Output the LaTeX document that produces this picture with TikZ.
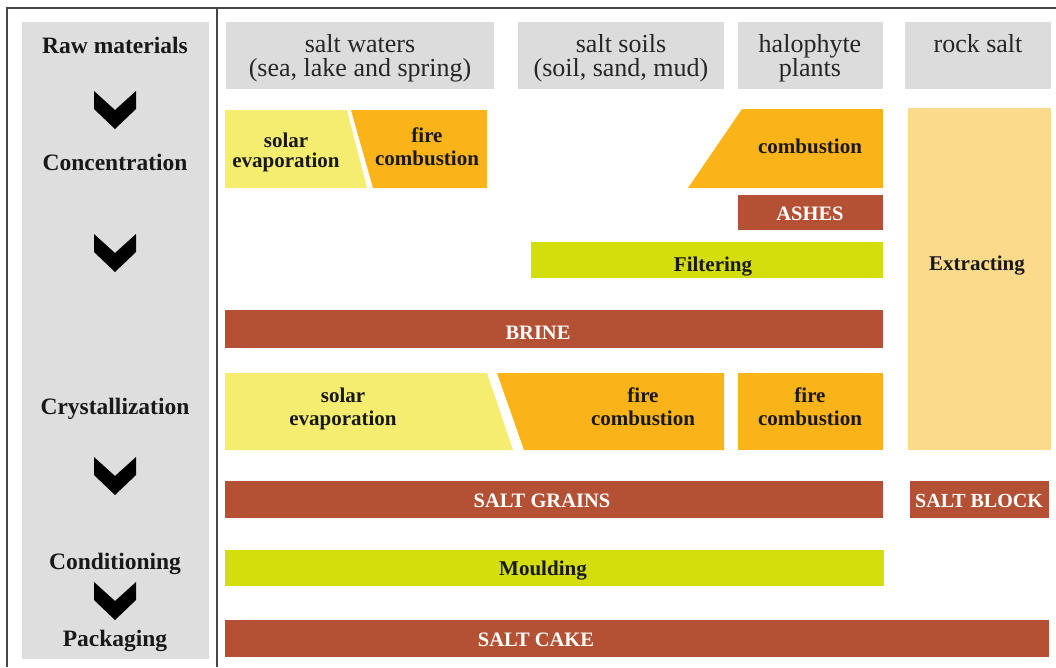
\documentclass[tikz,border=0pt]{standalone}
\usepackage{fontspec}
\setmainfont{Liberation Serif}
\definecolor{panelgray}{RGB}{222,222,222}
\definecolor{hdrgray}{RGB}{220,220,220}
\definecolor{sunyellow}{RGB}{245,237,112}
\definecolor{fireorange}{RGB}{250,180,25}
\definecolor{brickbrown}{RGB}{180,80,52}
\definecolor{limegreen}{RGB}{212,222,12}
\definecolor{paleorange}{RGB}{252,218,140}
\definecolor{framegray}{RGB}{70,70,70}
\tikzset{
  frameline/.style={draw=framegray,line width=1.5pt},
  hdrtext/.style={inner sep=0pt,align=center,font=\fontsize{26}{24}\selectfont,text=black!85},
  stagetext/.style={inner sep=0pt,font=\fontsize{23.5}{23}\selectfont\bfseries,text=black!90},
  darklbl/.style={inner sep=0pt,align=center,font=\fontsize{21}{23}\selectfont\bfseries,text=black!90},
  whitelbl/.style={inner sep=0pt,font=\fontsize{20.5}{22}\selectfont\bfseries,text=white},
  chevron/.pic={\fill[black] (-21,0) -- (0,19) -- (21,0) -- (21,18) -- (0,38) -- (-21,18) -- cycle;}
}
\begin{document}
\begin{tikzpicture}[x=1pt,y=-1pt]
\useasboundingbox (0,0) rectangle (1056,667);
\fill[white] (0,0) rectangle (1056,667);
% frame
\draw[frameline] (7,667) -- (7,8) -- (1056,8);
\draw[frameline] (217,8) -- (217,667);
% left panel
\fill[panelgray] (22,22) rectangle (209,659);
\node[stagetext,anchor=base] (raw) at (115,53) {Raw materials};
\node[stagetext,anchor=base] (conc) at (115,170) {Concentration};
\node[stagetext,anchor=base] (cryst) at (115,414) {Crystallization};
\node[stagetext,anchor=base] (cond) at (115,569) {Conditioning};
\node[stagetext,anchor=base] (pack) at (115,646) {Packaging};
\pic at (115,91) {chevron};
\pic at (115,234) {chevron};
\pic at (115,457) {chevron};
\pic at (115,582) {chevron};
% header boxes
\fill[hdrgray] (226,22) rectangle (494,89);
\fill[hdrgray] (518,22) rectangle (724,89);
\fill[hdrgray] (738,22) rectangle (883,89);
\fill[hdrgray] (905,22) rectangle (1051,89);
\node[hdrtext] (waters) at (360,58) {salt waters\\(sea, lake and spring)};
\node[hdrtext] (soils) at (621,58) {salt soils\\(soil, sand, mud)};
\node[hdrtext] (halo) at (810,58) {halophyte\\plants};
\node[hdrtext,anchor=base] (rock) at (978,52) {rock salt};
% concentration row
\fill[sunyellow] (225,110) -- (347,110) -- (367,188) -- (225,188) -- cycle;
\fill[fireorange] (351,110) -- (487,110) -- (487,188) -- (373,188) -- cycle;
\fill[fireorange] (742,109) -- (883,109) -- (883,188) -- (688,188) -- cycle;
\node[darklbl,font=\fontsize{21}{20}\selectfont\bfseries] (solar1) at (286,152) {solar\\evaporation};
\node[darklbl] (fire1) at (427,147) {fire\\combustion};
\node[darklbl,anchor=base] (comb) at (810,153) {combustion};
\fill[brickbrown] (738,195) rectangle (883,230);
\node[whitelbl,anchor=base] (ashes) at (810,220) {ASHES};
\fill[limegreen] (531,242) rectangle (883,278);
\node[darklbl,anchor=base] (filter) at (713,271) {Filtering};
\fill[paleorange] (908,108) rectangle (1051,450);
\node[darklbl,anchor=base] (extract) at (977,270) {Extracting};
% brine
\fill[brickbrown] (225,310) rectangle (883,348);
\node[whitelbl,anchor=base] (brine) at (538,339) {BRINE};
% crystallization row
\fill[sunyellow] (225,373) -- (487,373) -- (513,450) -- (225,450) -- cycle;
\fill[fireorange] (497,373) -- (724,373) -- (724,450) -- (524,450) -- cycle;
\fill[fireorange] (738,373) rectangle (883,450);
\node[darklbl] (solar2) at (343,409) {solar\\evaporation};
\node[darklbl] (fire2) at (643,407) {fire\\combustion};
\node[darklbl] (fire3) at (810,407) {fire\\combustion};
% salt grains / block
\fill[brickbrown] (225,481) rectangle (883,518);
\node[whitelbl,anchor=base] (grains) at (542,507) {SALT GRAINS};
\fill[brickbrown] (910,481) rectangle (1049,518);
\node[whitelbl,anchor=base,font=\fontsize{20}{22}\selectfont\bfseries] (block) at (979,507) {SALT BLOCK};
% moulding
\fill[limegreen] (225,550) rectangle (884,586);
\node[darklbl,anchor=base] (mould) at (543,575) {Moulding};
% salt cake
\fill[brickbrown] (225,620) rectangle (1049,657);
\node[whitelbl,anchor=base] (cake) at (536,646) {SALT CAKE};
\end{tikzpicture}
\end{document}
